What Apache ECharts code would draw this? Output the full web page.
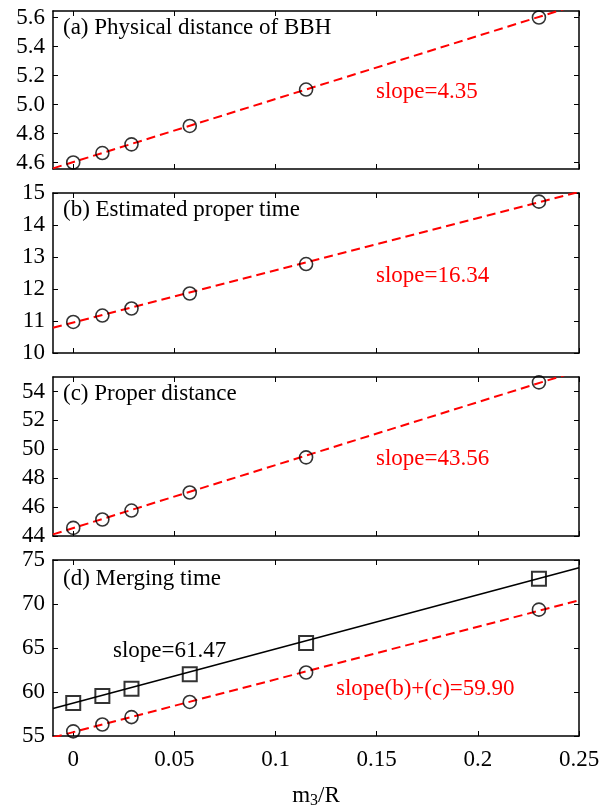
<!DOCTYPE html>
<html>
<head>
<meta charset="utf-8">
<script src="https://cdn.jsdelivr.net/npm/echarts@6/dist/echarts.min.js"></script>
<style>
html, body { margin: 0; padding: 0; background: #fff; }
#chart { width: 603px; height: 810px; }
</style>
</head>
<body>
<div id="chart"></div>
<script>
// m3/R values
var xVals = [0, 0.0144, 0.0288, 0.0576, 0.1151, 0.2302];
// (a)..(d) measured values
var distBBH = [4.60, 4.665, 4.725, 4.852, 5.103, 5.60];
var properTime = [10.97, 11.17, 11.39, 11.86, 12.78, 14.73];
var properDist = [44.56, 45.14, 45.76, 47.01, 49.44, 54.63];
var mergeTime = [58.75, 59.55, 60.37, 62.03, 65.56, 72.86];
var mergeSum = [55.53, 56.31, 57.15, 58.87, 62.22, 69.36];

// fitted lines: [intercept, slope]
var fitA = [4.603, 4.35];
var fitB = [10.95, 16.34];
var fitC = [44.55, 43.56];
var fitD = [58.75, 61.47];
var fitSum = [55.44, 59.90];

var panelTitles = ["(a) Physical distance of BBH", "(b) Estimated proper time", "(c) Proper distance", "(d) Merging time"];
var slopeTexts = ["slope=4.35", "slope=16.34", "slope=43.56", "slope=61.47", "slope(b)+(c)=59.90"];
var xTicks = [0, 0.05, 0.1, 0.15, 0.2, 0.25];
var yTicks = [
  [4.6, 4.8, 5.0, 5.2, 5.4, 5.6],
  [10, 11, 12, 13, 14, 15],
  [44, 46, 48, 50, 52, 54],
  [55, 60, 65, 70, 75]
];
var yRanges = [[4.555, 5.645], [10, 15], [44, 55], [55, 75]];
var xRange = [-0.01, 0.25];

var FONT = "Liberation Serif";
var FS = 23;
var RED = "#ff0000";

// panel boxes in pixels: [top, height]
var boxes = [[11, 158], [193, 160], [377, 159], [560, 179]];

let myChart = echarts.init(document.getElementById("chart"));

let grids = [], xAxes = [], yAxes = [], series = [];

boxes.forEach(function (b, i) {
  grids.push({ left: 53, right: 24, top: b[0], height: b[1] });
  var last = i === boxes.length - 1;
  // bottom and top x axes
  [false, true].forEach(function (isTop) {
    xAxes.push({
      type: "value",
      gridIndex: i,
      position: isTop ? "top" : "bottom",
      min: xRange[0],
      max: xRange[1],
      axisLine: { onZero: false, lineStyle: { color: "#000", width: 1.5 } },
      axisTick: { inside: true, length: 5, customValues: xTicks, lineStyle: { color: "#000" } },
      axisLabel: {
        show: last && !isTop,
        customValues: xTicks,
        color: "#000",
        fontFamily: FONT,
        fontSize: FS,
        margin: 12
      },
      splitLine: { show: false },
      name: last && !isTop ? "{m|m}{s|3}{m|/R}" : "",
      nameLocation: "middle",
      nameGap: 46,
      nameTextStyle: {
        rich: {
          m: { fontFamily: FONT, fontSize: FS, color: "#000" },
          s: { fontFamily: FONT, fontSize: 16, color: "#000", padding: [11, 0, 0, 0] }
        }
      }
    });
  });
  // left and right y axes
  [false, true].forEach(function (isRight) {
    yAxes.push({
      type: "value",
      gridIndex: i,
      position: isRight ? "right" : "left",
      min: yRanges[i][0],
      max: yRanges[i][1],
      axisLine: { onZero: false, lineStyle: { color: "#000", width: 1.5 } },
      axisTick: { inside: true, length: 5, customValues: yTicks[i], lineStyle: { color: "#000" } },
      axisLabel: {
        show: !isRight,
        customValues: yTicks[i],
        color: "#000",
        fontFamily: FONT,
        fontSize: FS,
        margin: 8,
        formatter: function (v) { return i === 0 ? v.toFixed(1) : String(v); }
      },
      splitLine: { show: false }
    });
  });
});

function fitLine(fit) {
  return [
    [xRange[0], fit[0] + fit[1] * xRange[0]],
    [xRange[1], fit[0] + fit[1] * xRange[1]]
  ];
}

function pairs(ys) {
  return xVals.map(function (x, k) { return [x, ys[k]]; });
}

function dashedFit(i, fit) {
  return {
    type: "line",
    xAxisIndex: 2 * i,
    yAxisIndex: 2 * i,
    data: fitLine(fit),
    symbol: "none",
    silent: true,
    lineStyle: { color: RED, width: 2, type: [9, 5] }
  };
}

function markers(i, ys, sym, size) {
  return {
    type: "scatter",
    xAxisIndex: 2 * i,
    yAxisIndex: 2 * i,
    data: pairs(ys),
    symbol: sym,
    symbolSize: size,
    z: 3,
    itemStyle: { color: "rgba(0,0,0,0)", borderColor: "#000", borderWidth: sym === "rect" ? 2 : 1.6 }
  };
}

series.push(dashedFit(0, fitA), markers(0, distBBH, "circle", 13));
series.push(dashedFit(1, fitB), markers(1, properTime, "circle", 13));
series.push(dashedFit(2, fitC), markers(2, properDist, "circle", 13));
series.push({
  type: "line",
  xAxisIndex: 6,
  yAxisIndex: 6,
  data: fitLine(fitD),
  symbol: "none",
  silent: true,
  lineStyle: { color: "#000", width: 1.6 }
});
series.push(markers(3, mergeTime, "rect", 14));
series.push(dashedFit(3, fitSum), markers(3, mergeSum, "circle", 13));

// panel titles and slope notes
let textPos = [
  [63, 28, panelTitles[0], "#000"],
  [63, 210, panelTitles[1], "#000"],
  [63, 394, panelTitles[2], "#000"],
  [63, 579, panelTitles[3], "#000"],
  [376, 92, slopeTexts[0], RED],
  [376, 276, slopeTexts[1], RED],
  [376, 459, slopeTexts[2], RED],
  [113, 651, slopeTexts[3], "#000"],
  [336, 689, slopeTexts[4], RED]
];
let graphics = textPos.map(function (t) {
  return {
    type: "text",
    x: t[0],
    y: t[1],
    style: {
      text: t[2],
      fill: t[3],
      font: FS + "px '" + FONT + "'",
      verticalAlign: "middle"
    }
  };
});

let option = {
  animation: false,
  backgroundColor: "#fff",
  grid: grids,
  xAxis: xAxes,
  yAxis: yAxes,
  series: series,
  graphic: graphics
};
myChart.setOption(option);
</script>
</body>
</html>
